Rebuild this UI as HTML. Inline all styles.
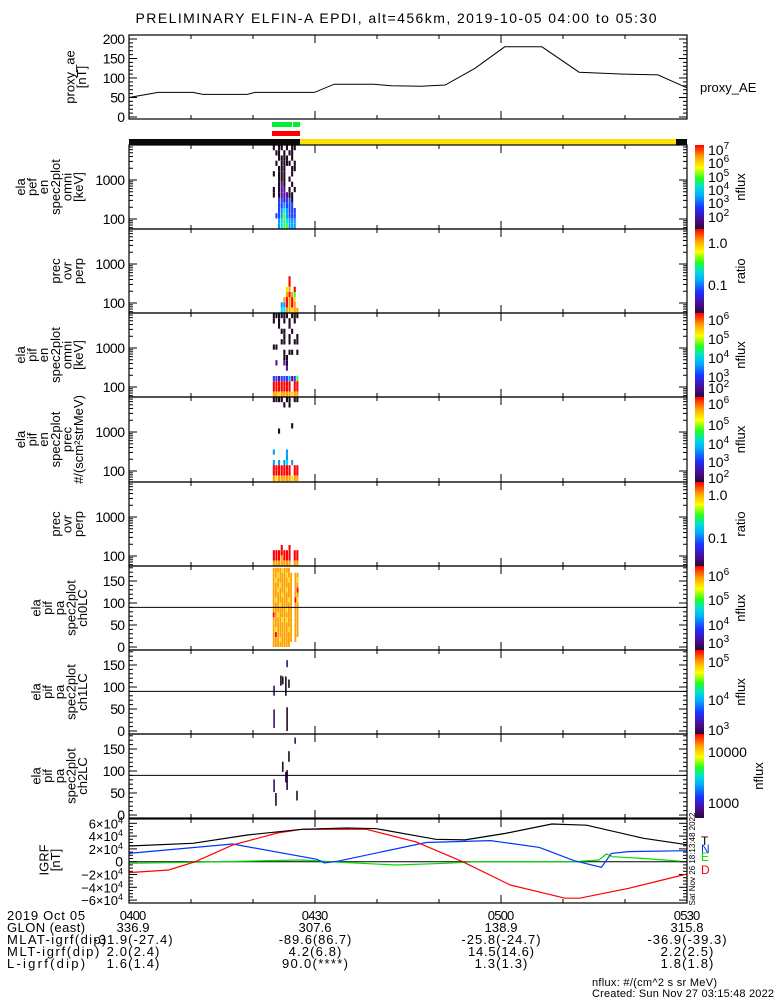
<!DOCTYPE html>
<html><head><meta charset="utf-8"><style>
html,body{margin:0;padding:0;background:#fff;}
svg{display:block;font-family:"Liberation Sans",sans-serif;}
</style></head><body>
<svg id="chart" width="775" height="1000" viewBox="0 0 775 1000" xmlns="http://www.w3.org/2000/svg">
<defs>
<linearGradient id="cmap" x1="0" y1="1" x2="0" y2="0">
<stop offset="0" stop-color="#2a0838"/><stop offset="0.1" stop-color="#4a0a8a"/>
<stop offset="0.25" stop-color="#2030ff"/><stop offset="0.4" stop-color="#00b0ff"/>
<stop offset="0.5" stop-color="#00e0d0"/><stop offset="0.6" stop-color="#20ff20"/>
<stop offset="0.73" stop-color="#ffff00"/><stop offset="0.86" stop-color="#ffa000"/>
<stop offset="1" stop-color="#ff0000"/>
</linearGradient>
</defs>
<rect x="0" y="0" width="775" height="1000" fill="#fff"/>
</svg>
<script>
// ---------- data ----------
const aeTimes=[0,4.7,10.3,11.9,19.1,20.3,29.9,33.1,39.5,42.3,47.1,51,55.8,60.6,66.6,72.6,79.8,85.3,90];
const aeValues=[50,63,63,58,58,63,63,84,84,80,79,82,125,180,180,115,110,108,75];
const yTicksAE=[0,50,100,150,200];
const timeLabels=["0400","0430","0500","0530"];
const timeLabelMinutes=[0,30,60,90];
const energyEdges=[7900,5800,4250,3120,2290,1680,1230,905,664,487,357,262,192,141,104,76,55];
const specT0=23.2, specDt=0.42;
const paT0=23.2, paDt=0.35;
const spec1=["1011010110","0110101100","0011110100","0101111010","0011100110","1011100100","0011101000","0012100100","1012201010","1012221100","0033233100","0033433300","0034543330","0334643330","0045654440","0045664440"];
const spec2=["0000000000","0000000000","0000000000","0000000000","0000000000","0000000000","0000000000","0000000000","0000000000","0000009000","0000009000","0000078090","0000089860","0000898970","0004498980","0005588788"];
const spec3=["1111110111","1010101010","0010001000","0001100100","0000101001","0001101011","1100000000","0000101101","0000110000","0200210000","0000020000","0000000000","3323334236","9999999099","9999999099","8878888788"];
const spec4=["1111011011","0000101000","0000000000","0000000000","0000000000","0000000100","0010000000","0000000000","0000000000","0000000000","4000040000","0000040000","4040450400","9999999099","9999999099","8788888788"];
const spec5=["0000000000","0000000000","0000000000","0000000000","0000000000","0000000000","0000000000","0000000000","0000000000","0000000000","0000000000","0000000000","0009009000","9999999099","9998999099","8888888088"];
const pa0=["888878880000","887888788088","878888878087","888788888088","887888788089","888878888088","878888878097","888788888088","888888788088","987888888088","888878788088","888888888088","878888878088","898888888088","888788888080","888888880000"];
const ch1Times=[23.4,24.5,24.8,25.5,25.3,25.5,23.4,25.8];
const ch1PaLo=[80,103,106,145,80,0,7,98];
const ch1PaHi=[103,126,124,161,124,54,49,117];
const ch2Times=[23.4,23.7,24.8,25.3,25.5,25.8,26.8,27.1];
const ch2PaLo=[52,21,98,74,57,121,162,33];
const ch2PaHi=[81,50,121,98,102,145,176,55];
const igrfTimes=[0,10.3,19.1,27.9,35.1,39.9,49.5,54.2,60.6,68.2,73.8,83,90];
const igrfT=[24500,28700,41700,50600,52600,51600,35000,34000,44000,58900,57000,36500,26500];
const igrfNTimes=[0,16.7,30.3,31.5,33.5,47.9,58.3,66.2,71.8,76.2,77.8,80.6,88.8,90];
const igrfN=[13000,27600,3700,-1800,500,30000,33000,22400,1500,-8800,13000,15800,17000,17000];
const igrfETimes=[0,10.3,27.9,31.2,34,43.1,51,56.2,71.8,75.8,77,78,83,88.8];
const igrfE=[-2500,-900,2600,1000,-1000,-5200,-2500,0,0,2600,12000,7800,5000,1000];
const igrfDTimes=[0,6.4,10.7,16.7,24,27.9,38.3,46.3,53.8,61.5,70.3,72.7,80.6,90];
const igrfD=[-17100,-13000,0,26000,45000,50600,50600,31000,0,-36400,-57000,-57000,-41600,-19200];
const bottomRowNames=["2019 Oct 05","GLON (east)","MLAT-igrf(dip)","MLT-igrf(dip)","L-igrf(dip)"];
const bottomRow0=["0400","0430","0500","0530"];
const bottomRow1=["336.9","307.6","138.9","315.8"];
const bottomRow2=["-31.9(-27.4)","-89.6(86.7)","-25.8(-24.7)","-36.9(-39.3)"];
const bottomRow3=["2.0(2.4)","4.2(6.8)","14.5(14.6)","2.2(2.5)"];
const bottomRow4=["1.6(1.4)","90.0(****)","1.3(1.3)","1.8(1.8)"];

// ---------- helpers ----------
const NS="http://www.w3.org/2000/svg";
const svg=document.getElementById('chart');
const X0=129,X1=687;
function xOf(t){return X0+t/90*(X1-X0);}
function mk(tag,attrs,parent){const e=document.createElementNS(NS,tag);for(const k in attrs)e.setAttribute(k,attrs[k]);(parent||svg).appendChild(e);return e;}
function txt(x,y,s,size,anchor,parent,fill){const e=mk('text',{x:x,y:y,'font-size':size,'text-anchor':anchor||'start',fill:fill||'#000'},parent);e.textContent=s;return e;}
const levelColors=["none","#1e0a22","#5a10a0","#2040ff","#00a0ff","#00e0ff","#40ff40","#ffe000","#ffa000","#ff0000"];

// title
const title=txt(396,23,"PRELIMINARY ELFIN-A EPDI, alt=456km, 2019-10-05 04:00 to 05:30",14,'middle');
title.setAttribute('textLength','521');



function xTicks(top,bottom,g){
  for(let m=0;m<=90;m+=10){
    const x=xOf(m),L=(m%30===0)?8:4;
    mk('line',{x1:x,x2:x,y1:bottom,y2:bottom-L,stroke:'#000','stroke-width':1},g);
    mk('line',{x1:x,x2:x,y1:top,y2:top+L,stroke:'#000','stroke-width':1},g);
  }
}
function box(top,bottom,g){
  mk('rect',{x:X0,y:top,width:X1-X0,height:bottom-top,fill:'none',stroke:'#000','stroke-width':1.2},g);
}
function yTick(y,L,g){
  mk('line',{x1:X0,x2:X0+L,y1:y,y2:y,stroke:'#000','stroke-width':1},g);
  mk('line',{x1:X1,x2:X1-L,y1:y,y2:y,stroke:'#000','stroke-width':1},g);
}
function tickLabel(x,y,s,g){const e=txt(x,y,s,14,'end',g);e.setAttribute('textLength',(s.length*7.4).toFixed(1));return e;}
function sideLabel(lines,cy,g,lastX){
  const t=mk('text',{'font-size':13,'text-anchor':'middle',transform:'translate(0,'+cy+') rotate(-90)'},g);
  const n=lines.length;
  lines.forEach((s,i)=>{
    const ts=mk('tspan',{x:0,y:lastX-(n-1-i)*11.6},t);
    ts.textContent=s;
  });
  return t;
}
function rotLabel(s,x,cy,g){const e=txt(0,0,s,13,'middle',g);e.setAttribute('transform','translate('+x+','+cy+') rotate(-90)');return e;}

// ---------- proxy AE panel ----------
const gAE=mk('g',{});


const aeTop=35,aeBot=119;
function yAE(v){return 117-v*0.39;}
box(aeTop,aeBot,gAE);xTicks(aeTop,aeBot,gAE);
for(let v=0;v<=200;v+=10){yTick(yAE(v),v%50===0?8:4,gAE);}
yTicksAE.forEach(v=>{tickLabel(125,yAE(v)+5,String(v),gAE);});
let d='';aeTimes.forEach((t,i)=>{d+=(i?'L':'M')+xOf(t).toFixed(1)+' '+yAE(aeValues[i]).toFixed(1);});
const aeLine=mk('path',{d:d,fill:'none',stroke:'#000','stroke-width':1},gAE);


const aeSide=sideLabel(["proxy_ae","[nT]"],77,gAE,86);


const aeLeg=txt(700,92,"proxy_AE",13,'start',gAE);



// status bars
const gb=mk('g',{});


mk('rect',{x:272,y:122,width:20,height:5,fill:'#00ee33'},gb);
mk('rect',{x:293,y:122,width:7,height:5,fill:'#00ee33'},gb);
mk('rect',{x:272,y:131,width:28,height:5,fill:'#ff0000'},gb);
mk('rect',{x:129,y:139,width:171,height:6,fill:'#0a0a0a'},gb);
mk('rect',{x:300,y:139,width:376,height:6,fill:'#ffe000'},gb);
mk('rect',{x:676,y:139,width:11,height:6,fill:'#0a0a0a'},gb);

// ---------- spectrogram panels ----------
const panelTops=[145,229,313,397,482,566,650,734];
const panelBots=[229,313,397,482,566,650,734,818];
function yE(top,e){return top+(Math.log10(7900)-Math.log10(e))*39;}
function drawSpec(i,rows,name,labels,cbLabels,cbTitle){
  const top=panelTops[i],bot=panelBots[i];
  const g=mk('g',{});
  
  
  rows.forEach((r,ri)=>{
    for(let c=0;c<r.length;c++){
      const lv=+r[c];if(!lv)continue;
      const x=xOf(specT0+c*specDt),w=xOf(specT0+(c+1)*specDt)-x;
      const y=yE(top,energyEdges[ri]),h=yE(top,energyEdges[ri+1])-y;
      const cell=mk('rect',{x:x.toFixed(1),y:y.toFixed(1),width:(w*0.8).toFixed(1),height:h.toFixed(1),fill:levelColors[lv]},g);
      
      
    }
  });
  box(top,bot,g);xTicks(top,bot,g);
  [60,70,80,90,100,200,300,400,500,600,700,800,900,1000,2000,3000,4000,5000,6000,7000].forEach(e=>{yTick(yE(top,e),(e===100||e===1000)?8:4,g);});
  tickLabel(125,yE(top,1000)+5,"1000",g);
  tickLabel(125,yE(top,100)+5,"100",g);
  const sl=sideLabel(labels,(top+bot)/2,g,83);
  
  
  drawColorbar(top,bot,cbLabels,cbTitle,g,745);
}
function drawColorbar(top,bot,cbLabels,cbTitle,g,tx){
  const cb=mk('rect',{x:695,y:top,width:9,height:bot-top,fill:'url(#cmap)'},g);
  
  
  cbLabels.forEach(l=>{
    const t=mk('text',{x:708,y:l[1]+5,'font-size':14},g);
    t.textContent=l[0];
    if(l[2]){const s=mk('tspan',{dy:-6,'font-size':10},t);s.textContent=l[2];}
  });
  rotLabel(cbTitle,tx,(top+bot)/2,g);
}
drawSpec(0,spec1,'pef-omni-spectrogram',["ela","pef","en","spec2plot","omni","[keV]"],[["10",150,"7"],["10",163,"6"],["10",177,"5"],["10",190,"4"],["10",203,"3"],["10",217,"2"]],"nflux");
drawSpec(1,spec2,'pef-ratio-spectrogram',["prec","ovr","perp"],[["1.0",243],["0.1",285]],"ratio");
drawSpec(2,spec3,'pif-omni-spectrogram',["ela","pif","en","spec2plot","omni","[keV]"],[["10",320,"6"],["10",339,"5"],["10",358,"4"],["10",377,"3"],["10",388,"2"]],"nflux");
drawSpec(3,spec4,'pif-prec-spectrogram',["ela","pif","en","spec2plot","prec","#/(scm²strMeV)"],[["10",404,"6"],["10",425,"5"],["10",444,"4"],["10",462,"3"],["10",478,"2"]],"nflux");
drawSpec(4,spec5,'pif-ratio-spectrogram',["prec","ovr","perp"],[["1.0",495],["0.1",538]],"ratio");

// ---------- pitch-angle panels ----------
function yPA(bot,pa){return bot-3-pa*0.44;}
function paFrame(i,name,labels,g){
  const top=panelTops[i],bot=panelBots[i];
  box(top,bot,g);xTicks(top,bot,g);
  for(let v=0;v<=180;v+=10)yTick(yPA(bot,v),v%50===0?8:4,g);
  [0,50,100,150].forEach(v=>tickLabel(125,yPA(bot,v)+5,String(v),g));
  const hl=mk('line',{x1:X0,x2:X1,y1:yPA(bot,90),y2:yPA(bot,90),stroke:'#000','stroke-width':1},g);
  
  
  const sl=sideLabel(labels,(top+bot)/2,g,87);
  
  
}
const g6=mk('g',{});


pa0.forEach((r,ri)=>{
  for(let c=0;c<r.length;c++){
    const lv=+r[c];if(!lv)continue;
    const x=xOf(paT0+c*paDt),w=xOf(paT0+(c+1)*paDt)-x;
    const y=yPA(650,180-ri*11.25),h=yPA(650,180-(ri+1)*11.25)-y;
    const cell=mk('rect',{x:x.toFixed(1),y:y.toFixed(1),width:(w*0.85).toFixed(1),height:h.toFixed(1),fill:levelColors[lv]},g6);
    
    
  }
});
paFrame(5,'pa-ch0lc',["ela","pif","pa","spec2plot","ch0LC"],g6);
drawColorbar(566,650,[["10",576,"6"],["10",600,"5"],["10",625,"4"],["10",643,"3"]],"nflux",g6,745);

function strokes(i,times,lo,hi,name,labels,cbLabels,tx){
  const g=mk('g',{});
  
  
  const bot=panelBots[i];
  times.forEach((t,k)=>{
    const s=mk('line',{x1:xOf(t),x2:xOf(t),y1:yPA(bot,lo[k]),y2:yPA(bot,hi[k]),stroke:k%3===0?'#3a1060':'#1e0a22','stroke-width':1.6},g);
    
    
  });
  paFrame(i,name,labels,g);
  drawColorbar(panelTops[i],bot,cbLabels,"nflux",g,tx);
}
strokes(6,ch1Times,ch1PaLo,ch1PaHi,'pa-ch1lc-panel',["ela","pif","pa","spec2plot","ch1LC"],[["10",662,"5"],["10",700,"4"],["10",730,"3"]],745);
strokes(7,ch2Times,ch2PaLo,ch2PaHi,'pa-ch2lc-panel',["ela","pif","pa","spec2plot","ch2LC"],[["10000",752],["1000",803]],763);

// ---------- IGRF panel ----------
const gI=mk('g',{});


const iTop=819,iBot=903;
function yI(v){return 861.7-v/60000*38.4;}
for(let v=-60000;v<=60000;v+=5000)yTick(yI(v),v%20000===0?8:4,gI);
[-60000,-40000,-20000,0,20000,40000,60000].forEach(v=>{
  if(v===0){tickLabel(123,yI(0)+5,"0",gI);return;}
  const t=mk('text',{x:123,y:yI(v)+5,'font-size':13,'text-anchor':'end'},gI);
  t.textContent=(v<0?'−':'')+Math.abs(v/10000)+'×10';
  const s=mk('tspan',{dy:-5,'font-size':9},t);s.textContent='4';
});
mk('line',{x1:X0,x2:X1,y1:yI(0),y2:yI(0),stroke:'#000','stroke-width':1},gI);
function igrfLine(times,vals,col,name){
  let d='';times.forEach((t,i)=>{d+=(i?'L':'M')+xOf(t).toFixed(1)+' '+yI(vals[i]).toFixed(1);});
  const p=mk('path',{d:d,fill:'none',stroke:col,'stroke-width':1.2},gI);
  
  
}
igrfLine(igrfETimes,igrfE,'#00dd00','igrf-e-line');
igrfLine(igrfNTimes,igrfN,'#0033ff','igrf-n-line');
igrfLine(igrfDTimes,igrfD,'#ff0000','igrf-d-line');
igrfLine(igrfTimes,igrfT,'#000','igrf-t-line');
box(iTop,iBot,gI);xTicks(iTop,iBot,gI);
const isl=sideLabel(["IGRF","[nT]"],860,gI,60);


[["T",845,'#000'],["N",853,'#0033ff'],["E",861,'#00dd00'],["D",874,'#ff0000']].forEach(l=>{
  const e=txt(701,l[1],l[0],12,'start',gI,l[2]);
  
  
});
const stamp=txt(0,0,"Sat Nov 26 18:13:48 2022",8,'middle',gI);
stamp.setAttribute('transform','translate(695,859) rotate(-90)');

// ---------- bottom annotation ----------
const gT=mk('g',{});


const rowY=[920,932,944,956,968];
const rows=[bottomRow0,bottomRow1,bottomRow2,bottomRow3,bottomRow4];
bottomRowNames.forEach((s,i)=>{const e=txt(7,rowY[i],s,13,'start',gT);e.setAttribute('textLength',(s.length*7.1).toFixed(1));});
rows.forEach((r,i)=>{r.forEach((s,k)=>{
  const e=txt(xOf(timeLabelMinutes[k])+ (k===0?4:0),rowY[i],s,13,'middle',gT);
  e.setAttribute('textLength',(s.length*6.6).toFixed(1));
});});
const f1=txt(592,986,"nflux: #/(cm^2 s sr MeV)",11,'start',gT);
f1.setAttribute('textLength','125');
const f2=txt(592,997,"Created: Sun Nov 27 03:15:48 2022",11,'start',gT);
f2.setAttribute('textLength','182');
</script>
</body></html>
